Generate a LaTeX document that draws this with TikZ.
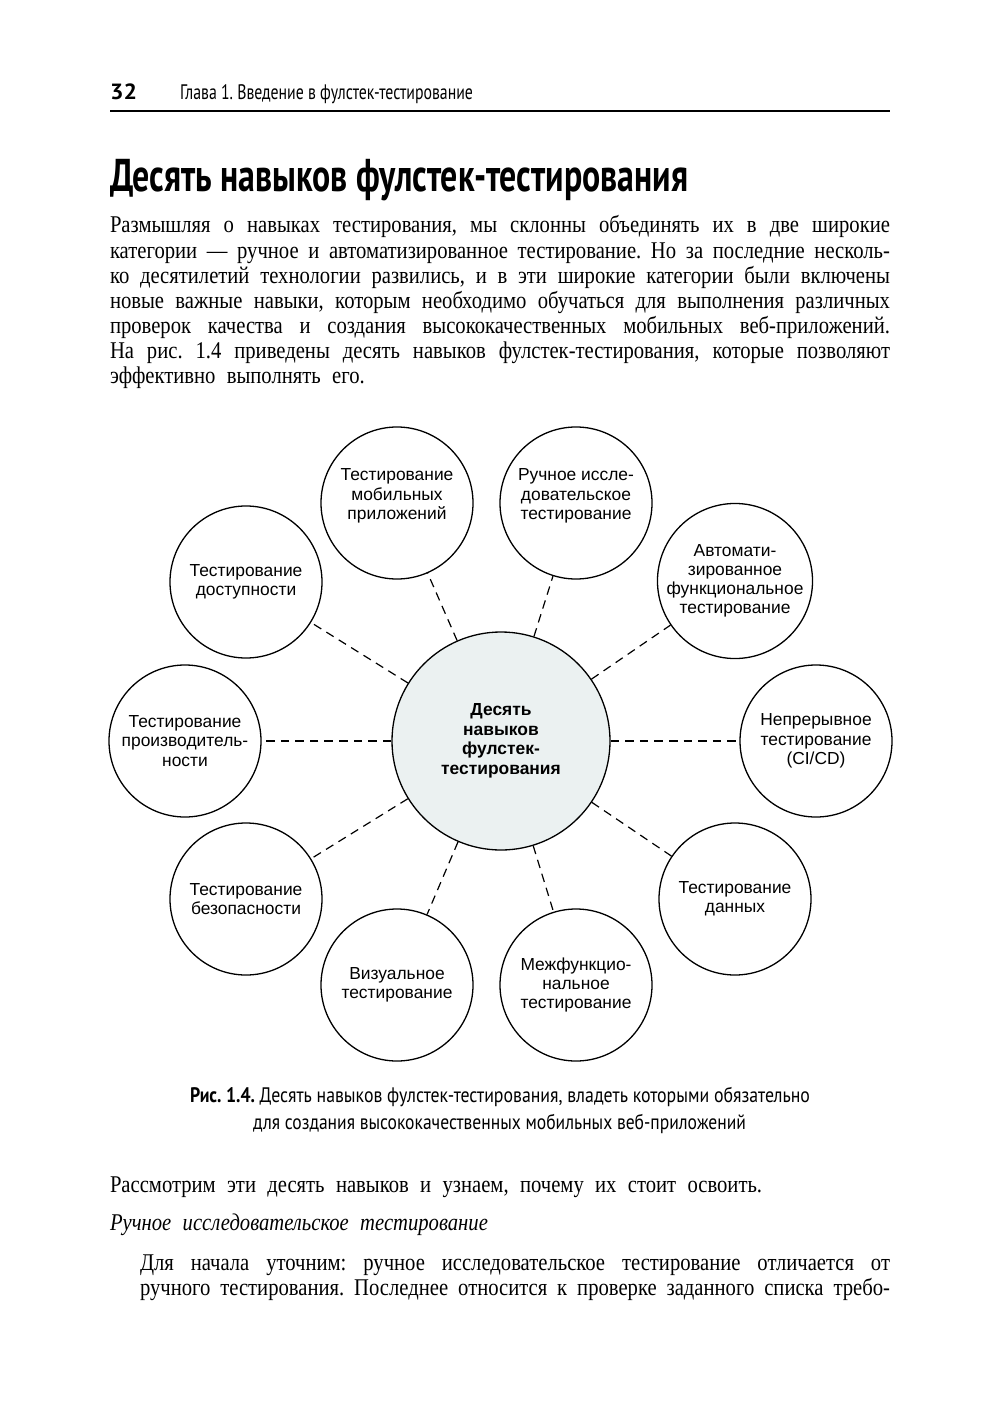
\documentclass[tikz,border=0pt]{standalone}
\usepackage{fontspec}
\usepackage{graphicx}
\setmainfont{Liberation Serif}[FakeStretch=0.86,WordSpace=2.2]
\newfontfamily\condsans{PT Sans}[FakeStretch=0.82]
\newfontfamily\diagfont{Liberation Sans}
\definecolor{hubfill}{RGB}{235,241,241}
\newcommand\bodyf{\fontsize{12}{12.5}\selectfont}
\newcommand\jl[2]{\makebox[#1][s]{#2}}
\frenchspacing
\begin{document}
\begin{tikzpicture}[x=0.5pt,y=-0.5pt,
  txt/.style={anchor=base west, inner sep=0pt, outer sep=0pt},
  skill/.style={circle, draw, line width=0.65pt, minimum size=76pt, inner sep=0pt, align=center,
    font=\diagfont\fontsize{8.7}{9.6}\selectfont},
  skilltext/.style={align=center, inner sep=0pt, font=\diagfont\fontsize{8.7}{9.6}\selectfont},
  hub/.style={circle, draw, line width=0.65pt, fill=hubfill, minimum size=109pt, inner sep=0pt, align=center,
    font=\diagfont\bfseries\fontsize{8.7}{9.75}\selectfont},
  link/.style={dash pattern=on 4.3pt off 3pt, line width=0.6pt}]
\fill[white] (0,0) rectangle (1000,1412);
\useasboundingbox (0,0) rectangle (1000,1412);

% running head
\node[txt] (pg) at (110,100) {\resizebox{13.5pt}{\height}{\condsans\bfseries\fontsize{11}{11}\selectfont 32}};
\node[txt] (ch) at (180,100) {\resizebox{146.5pt}{\height}{\condsans\fontsize{10.5}{10.5}\selectfont Глава 1. Введение в фулстек-тестирование}};
\draw[line width=0.8pt] (110,111) -- (890,111);

% heading
\node[txt] (head) at (110,192) {\resizebox{289pt}{\height}{\condsans\bfseries\fontsize{23}{23}\selectfont Десять навыков фулстек-тестирования}};

% intro paragraph
\node[txt] (p1) at (110,233) {\bodyf\jl{390pt}{Размышляя о навыках тестирования, мы склонны объединять их в две широкие}};
\node[txt] (p2) at (110,258) {\bodyf\jl{390pt}{категории — ручное и автоматизированное тестирование. Но за последние несколь-}};
\node[txt] (p3) at (110,283) {\bodyf\jl{390pt}{ко десятилетий технологии развились, и в эти широкие категории были включены}};
\node[txt] (p4) at (110,308) {\bodyf\jl{390pt}{новые важные навыки, которым необходимо обучаться для выполнения различных}};
\node[txt] (p5) at (110,333) {\bodyf\jl{390pt}{проверок качества и создания высококачественных мобильных веб-приложений.}};
\node[txt] (p6) at (110,358) {\bodyf\jl{390pt}{На рис. 1.4 приведены десять навыков фулстек-тестирования, которые позволяют}};
\node[txt] (p7) at (110,383) {\bodyf эффективно выполнять его.};

% diagram
\node[hub] (hub) at (501,741) {Десять\\навыков\\фулстек-\\тестирования};
\node[skill, label={[skilltext,yshift=3.5pt]center:{Тестирование\\мобильных\\приложений}}] (mob) at (397,503) {};
\node[skill, label={[skilltext,yshift=3.5pt]center:{Ручное иссле-\\довательское\\тестирование}}] (ruch) at (576,503) {};
\node[skill] (dost) at (246,582) {Тестирование\\доступности};
\node[skill] (avto) at (735,581) {Автомати-\\зированное\\функциональное\\тестирование};
\node[skill] (proiz) at (185,741) {Тестирование\\производитель-\\ности};
\node[skill] (nepr) at (816,741) {Непрерывное\\тестирование\\(CI/CD)};
\node[skill] (bez) at (246,899) {Тестирование\\безопасности};
\node[skill] (dann) at (735,899) {Тестирование\\данных};
\node[skill] (viz) at (397,985) {Визуальное\\тестирование};
\node[skill] (mezh) at (576,985) {Межфункцио-\\нальное\\тестирование};

\foreach \n in {mob,ruch,dost,avto,proiz,nepr,bez,dann,viz,mezh}
  \draw[link] (hub) -- (\n);

% caption
\node[txt] (cap1) at (190,1102) {\resizebox{310pt}{\height}{\condsans\fontsize{10.5}{10.5}\selectfont\textbf{Рис. 1.4.} Десять навыков фулстек-тестирования, владеть которыми обязательно}};
\node[txt] (cap2) at (253,1129) {\resizebox{246.5pt}{\height}{\condsans\fontsize{10.5}{10.5}\selectfont для создания высококачественных мобильных веб-приложений}};

% following text
\node[txt] (q1) at (110,1192) {\bodyf Рассмотрим эти десять навыков и узнаем, почему их стоит освоить.};
\node[txt] (q2) at (110,1230) {\bodyf\itshape Ручное исследовательское тестирование};
\node[txt] (q3) at (140,1270) {\bodyf\jl{375pt}{Для начала уточним: ручное исследовательское тестирование отличается от}};
\node[txt] (q4) at (140,1295) {\bodyf\jl{375pt}{ручного тестирования. Последнее относится к проверке заданного списка требо-}};
\end{tikzpicture}
\end{document}
